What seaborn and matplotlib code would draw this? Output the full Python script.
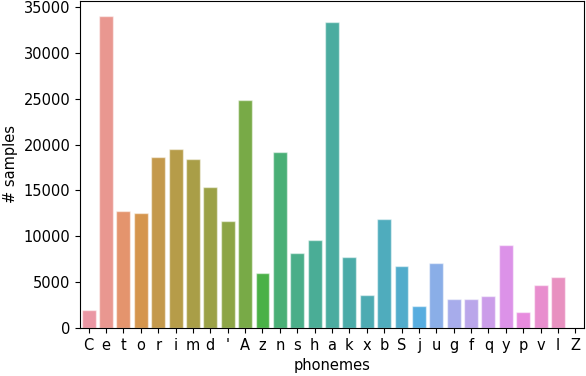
import matplotlib
matplotlib.use("Agg")
import matplotlib.pyplot as plt
import seaborn as sns
import pandas as pd

phonemes = ["C", "e", "t", "o", "r", "i", "m", "d", "'", "A", "z", "n", "s", "h",
            "a", "k", "x", "b", "S", "j", "u", "g", "f", "q", "y", "p", "v", "l", "Z"]
counts = [1970, 34000, 12800, 12540, 18630, 19540, 18410, 15390, 11700, 24900,
          5980, 19170, 8160, 9620, 33340, 7690, 3630, 11900, 6790, 2440,
          7070, 3200, 3120, 3450, 9000, 1710, 4720, 5520, 40]

df = pd.DataFrame({"phonemes": phonemes, "# samples": counts})

fig = plt.figure(figsize=(5.86, 3.76), dpi=100)
ax = fig.add_axes([80 / 586, 1 - 328 / 376, (584 - 80) / 586, (328 - 0.5) / 376])
palette = sns.husl_palette(len(phonemes), l=.7)
sns.barplot(data=df, x="phonemes", y="# samples", hue="phonemes",
            palette=palette, legend=False, ax=ax, saturation=0.75,
            edgecolor=(1, 1, 1, 0.5), linewidth=1)
ax.tick_params(labelsize=10.5)
ax.set_xlabel("phonemes", fontsize=10.5)
ax.set_ylabel("# samples", fontsize=10.5)
fig.savefig("out.png", dpi=100)
